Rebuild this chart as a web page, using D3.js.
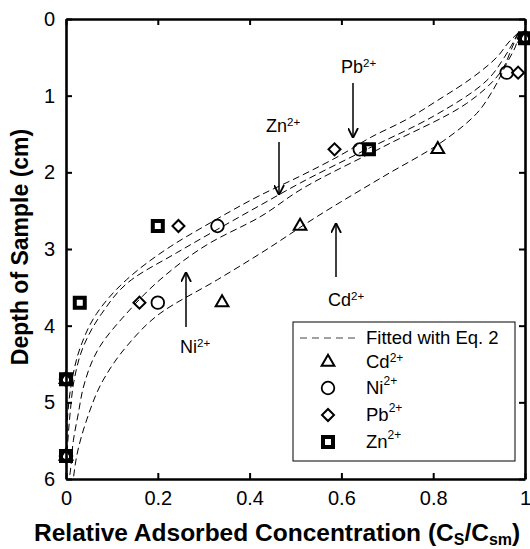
<!DOCTYPE html>
<html>
<head>
<meta charset="utf-8">
<script src="https://cdn.jsdelivr.net/npm/d3@7"></script>
<style>
  body { margin: 0; background: #fff; }
  text { font-family: "Liberation Sans", Arial, Helvetica, sans-serif; }
</style>
</head>
<body>
<div id="chart"></div>
<script>
// measured points: [relative concentration, depth in cm]
const cdPoints = [[1, 0.25], [0.81, 1.7], [0.51, 2.7], [0.34, 3.7], [0, 4.7], [0, 5.7]];
const niPoints = [[1, 0.25], [0.96, 0.7], [0.64, 1.7], [0.33, 2.7], [0.2, 3.7], [0, 4.7], [0, 5.7]];
const pbPoints = [[1, 0.25], [0.985, 0.7], [0.585, 1.7], [0.245, 2.7], [0.16, 3.7], [0, 4.7], [0, 5.7]];
const znPoints = [[1, 0.25], [0.66, 1.7], [0.2, 2.7], [0.03, 3.7], [0, 4.7], [0, 5.7]];

// fitted curves (Eq. 2)
const pbFit = [[0.985, 0.18], [0.965, 0.3], [0.94, 0.49], [0.884, 0.77], [0.81, 1.06], [0.739, 1.32], [0.665, 1.54],
  [0.6, 1.77], [0.51, 2.05], [0.423, 2.3], [0.314, 2.66], [0.227, 2.97], [0.132, 3.4], [0.067, 3.84],
  [0.032, 4.27], [0.012, 4.75], [0.004, 5.14], [0.001, 5.6], [0, 6]];
const znFit = [[0.985, 0.18], [0.97, 0.35], [0.955, 0.5], [0.917, 0.8], [0.8, 1.27], [0.645, 1.73], [0.51, 2.14],
  [0.423, 2.43], [0.241, 3.05], [0.143, 3.4], [0.078, 3.84], [0.038, 4.27], [0.018, 4.7], [0.009, 5.14],
  [0.003, 5.6], [0, 6]];
const niFit = [[0.985, 0.18], [0.97, 0.4], [0.946, 0.7], [0.873, 1.1], [0.69, 1.67], [0.51, 2.23], [0.423, 2.58],
  [0.314, 2.92], [0.205, 3.4], [0.132, 3.84], [0.074, 4.27], [0.038, 4.8], [0.027, 5.14], [0.016, 5.5],
  [0.009, 5.92], [0.007, 6]];
const cdFit = [[0.985, 0.18], [0.982, 0.31], [0.96, 0.58], [0.93, 0.93], [0.895, 1.23], [0.815, 1.62], [0.69, 2.06],
  [0.546, 2.58], [0.423, 3.06], [0.33, 3.4], [0.205, 3.84], [0.132, 4.27], [0.081, 4.71], [0.045, 5.23],
  [0.023, 5.71], [0.016, 6]];

const xTicks = [0, 0.2, 0.4, 0.6, 0.8, 1];
const yTicks = [0, 1, 2, 3, 4, 5, 6];
const legendLabels = ["Cd", "Ni", "Pb", "Zn"];

const width = 530, height = 549;
const svg = d3.select("#chart").append("svg")
    .attr("width", width)
    .attr("height", height);

const x = d3.scaleLinear().domain([0, 1]).range([66, 525]);
const y = d3.scaleLinear().domain([0, 6]).range([19, 479]);

const fmt = d => d === 0 || d === 1 ? String(d) : d3.format(".1f")(d);

// axes, ticks point inward on all four sides
function styleAxis(g) {
  g.select(".domain").attr("stroke", "#000").attr("stroke-width", 2.6);
  g.selectAll(".tick line").attr("stroke", "#000").attr("stroke-width", 2);
  g.selectAll(".tick text").attr("font-size", 20).attr("fill", "#000")
      .style("font-family", '"Liberation Sans", Arial, sans-serif');
}

svg.append("g")
    .attr("transform", "translate(0,479)")
    .call(d3.axisBottom(x).tickValues(xTicks).tickFormat(fmt).tickSize(-6).tickSizeOuter(0).tickPadding(12))
    .call(styleAxis);
svg.append("g")
    .attr("transform", "translate(0,19)")
    .call(d3.axisTop(x).tickValues(xTicks).tickFormat("").tickSize(-6).tickSizeOuter(0))
    .call(styleAxis);
svg.append("g")
    .attr("transform", "translate(66,0)")
    .call(d3.axisLeft(y).tickValues(yTicks).tickFormat(d3.format("d")).tickSize(-6).tickSizeOuter(0).tickPadding(11))
    .call(styleAxis);
svg.append("g")
    .attr("transform", "translate(525,0)")
    .call(d3.axisRight(y).tickValues(yTicks).tickFormat("").tickSize(-6).tickSizeOuter(0))
    .call(styleAxis);

// fitted curves
svg.append("clipPath").attr("id", "plot-clip")
  .append("rect").attr("x", 66).attr("y", 19).attr("width", 459).attr("height", 460);

const line = d3.line()
    .x(d => x(d[0]))
    .y(d => y(d[1]))
    .curve(d3.curveMonotoneY);

svg.append("g")
    .attr("clip-path", "url(#plot-clip)")
    .selectAll("path")
    .data([pbFit, znFit, niFit, cdFit])
    .enter().append("path")
    .attr("d", line)
    .attr("fill", "none")
    .attr("stroke", "#000")
    .attr("stroke-width", 1)
    .attr("stroke-dasharray", "7,4");

// markers
const markerStyles = {
  Cd: { type: d3.symbolTriangle, size: 70, rotate: 0, sw: 2 },
  Ni: { type: d3.symbolCircle, size: 125, rotate: 0, sw: 1.8 },
  Pb: { type: d3.symbolSquare, size: 72, rotate: 45, sw: 2 },
  Zn: { type: d3.symbolSquare, size: 100, rotate: 0, sw: 4 }
};

function drawMarkers(data, key) {
  const s = markerStyles[key];
  svg.append("g").selectAll("path")
      .data(data)
      .enter().append("path")
      .attr("d", d3.symbol().type(s.type).size(s.size))
      .attr("transform", d => `translate(${x(d[0])},${y(d[1])}) rotate(${s.rotate})`)
      .attr("fill", "none")
      .attr("stroke", "#000")
      .attr("stroke-width", s.sw);
}
drawMarkers(cdPoints, "Cd");
drawMarkers(niPoints, "Ni");
drawMarkers(pbPoints, "Pb");
drawMarkers(znPoints, "Zn");

// arrow annotations
svg.append("defs").append("marker")
    .attr("id", "arrowhead")
    .attr("viewBox", "0 0 10 10")
    .attr("refX", 10).attr("refY", 5)
    .attr("markerWidth", 10).attr("markerHeight", 11)
    .attr("markerUnits", "userSpaceOnUse")
    .attr("orient", "auto")
  .append("path")
    .attr("d", "M0,0 L10,5 L0,10")
    .attr("fill", "none")
    .attr("stroke", "#000")
    .attr("stroke-width", 1.8);

const notes = [
  { ion: "Pb", tx: 341, ty: 73, ax: 353, y1: 83, y2: 138 },
  { ion: "Zn", tx: 266, ty: 132, ax: 279, y1: 142, y2: 195 },
  { ion: "Cd", tx: 328, ty: 306, ax: 336, y1: 277, y2: 223 },
  { ion: "Ni", tx: 180, ty: 353, ax: 186, y1: 327, y2: 272 }
];

notes.forEach(n => {
  svg.append("line")
      .attr("x1", n.ax).attr("x2", n.ax)
      .attr("y1", n.y1).attr("y2", n.y2)
      .attr("stroke", "#000")
      .attr("stroke-width", 1.5)
      .attr("marker-end", "url(#arrowhead)");
  const t = svg.append("text")
      .attr("x", n.tx).attr("y", n.ty)
      .attr("font-size", 18);
  t.append("tspan").text(n.ion);
  t.append("tspan").attr("font-size", 11.5).attr("dy", -6).text("2+");
});

// legend
const lg = svg.append("g");
lg.append("rect")
    .attr("x", 293).attr("y", 322)
    .attr("width", 222).attr("height", 139)
    .attr("fill", "#fff")
    .attr("stroke", "#000")
    .attr("stroke-width", 1);
lg.append("line")
    .attr("x1", 300).attr("x2", 358)
    .attr("y1", 338).attr("y2", 338)
    .attr("stroke", "#444")
    .attr("stroke-width", 1)
    .attr("stroke-dasharray", "7,5");
lg.append("text")
    .attr("x", 366).attr("y", 344)
    .attr("font-size", 18.5)
    .text("Fitted with Eq. 2");

const rowY = [362, 388, 415, 442];
legendLabels.forEach((key, i) => {
  const s = markerStyles[key];
  lg.append("path")
      .attr("d", d3.symbol().type(s.type).size(s.size))
      .attr("transform", `translate(328,${rowY[i]}) rotate(${s.rotate})`)
      .attr("fill", "none")
      .attr("stroke", "#000")
      .attr("stroke-width", s.sw);
  const t = lg.append("text")
      .attr("x", 366).attr("y", rowY[i] + 6)
      .attr("font-size", 18.5);
  t.append("tspan").text(key);
  t.append("tspan").attr("font-size", 12).attr("dy", i === 0 ? -6 : -9).text("2+");
});

// axis titles
svg.append("text")
    .attr("transform", "translate(28,247) rotate(-90)")
    .attr("text-anchor", "middle")
    .attr("font-size", 23)
    .attr("font-weight", "bold")
    .text("Depth of Sample (cm)");

const xt = svg.append("text")
    .attr("x", 34).attr("y", 541)
    .attr("font-size", 24.5)
    .attr("font-weight", "bold");
xt.append("tspan").text("Relative Adsorbed Concentration (C");
xt.append("tspan").attr("font-size", 16).attr("dy", 4).text("S");
xt.append("tspan").attr("dy", -4).text("/C");
xt.append("tspan").attr("font-size", 16).attr("dy", 4).text("sm");
xt.append("tspan").attr("dy", -4).text(")");
</script>
</body>
</html>
